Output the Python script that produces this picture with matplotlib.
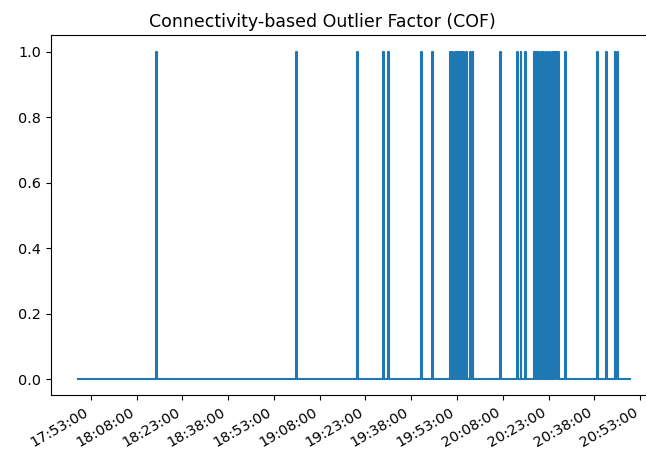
import matplotlib
matplotlib.use("Agg")
import matplotlib.pyplot as plt
import matplotlib.dates as mdates
import pandas as pd

# Observation window of the sensor stream
series_start = "2023-01-01 17:48:54"
series_end = "2023-01-01 20:49:42"

# Intervals flagged as outliers by COF (label = 1), start/end times
outlier_start = [
    "18:14:24", "19:00:10", "19:20:20", "19:28:45", "19:30:20",
    "19:41:20", "19:44:40",
    "19:50:50", "19:51:30", "19:52:10", "19:52:50", "19:53:30",
    "19:54:10", "19:54:50", "19:56:00", "19:57:20", "19:58:05",
    "20:07:12", "20:12:40", "20:13:50", "20:15:20",
    "20:18:05", "20:18:50", "20:19:35", "20:20:25", "20:21:10",
    "20:22:05", "20:23:10", "20:24:00", "20:24:45", "20:25:35",
    "20:26:10", "20:28:30",
    "20:38:48", "20:41:54", "20:44:36", "20:45:20",
]
outlier_end = [
    "18:14:40", "19:00:30", "19:20:40", "19:29:00", "19:30:40",
    "19:41:40", "19:45:00",
    "19:51:10", "19:51:50", "19:52:30", "19:53:10", "19:53:50",
    "19:54:30", "19:55:10", "19:56:15", "19:57:35", "19:58:20",
    "20:07:30", "20:12:55", "20:14:05", "20:15:35",
    "20:18:25", "20:19:10", "20:19:55", "20:20:45", "20:21:30",
    "20:22:25", "20:23:30", "20:24:20", "20:25:05", "20:25:55",
    "20:26:25", "20:28:45",
    "20:39:02", "20:42:08", "20:44:50", "20:45:35",
]

tick_labels = ["17:53:00", "18:08:00", "18:23:00", "18:38:00", "18:53:00",
               "19:08:00", "19:23:00", "19:38:00", "19:53:00", "20:08:00",
               "20:23:00", "20:38:00", "20:53:00"]

day = "2023-01-01 "
times = [pd.Timestamp(series_start)]
labels = [0]
for s, e in zip(outlier_start, outlier_end):
    times += [pd.Timestamp(day + s), pd.Timestamp(day + e)]
    labels += [1, 0]
times.append(pd.Timestamp(series_end))
labels.append(0)

fig = plt.figure(figsize=(6.46, 4.55), dpi=100)
ax = fig.add_axes([0.0785, 0.131, 0.9396, 0.7914])
ax.plot(times, labels, drawstyle="steps-post", color="#1f77b4", linewidth=1.5)

ax.set_title("Connectivity-based Outlier Factor (COF)", fontsize=12.5, x=0.447)
ticks = [pd.Timestamp(day + t) for t in tick_labels]
ax.set_xticks(ticks)
ax.xaxis.set_major_formatter(mdates.DateFormatter("%H:%M:%S"))
ax.set_yticks([0.0, 0.2, 0.4, 0.6, 0.8, 1.0])
ax.tick_params(labelsize=10.4)
for lbl in ax.get_xticklabels():
    lbl.set_rotation(30)
    lbl.set_ha("right")

fig.savefig("out.png", dpi=100)
